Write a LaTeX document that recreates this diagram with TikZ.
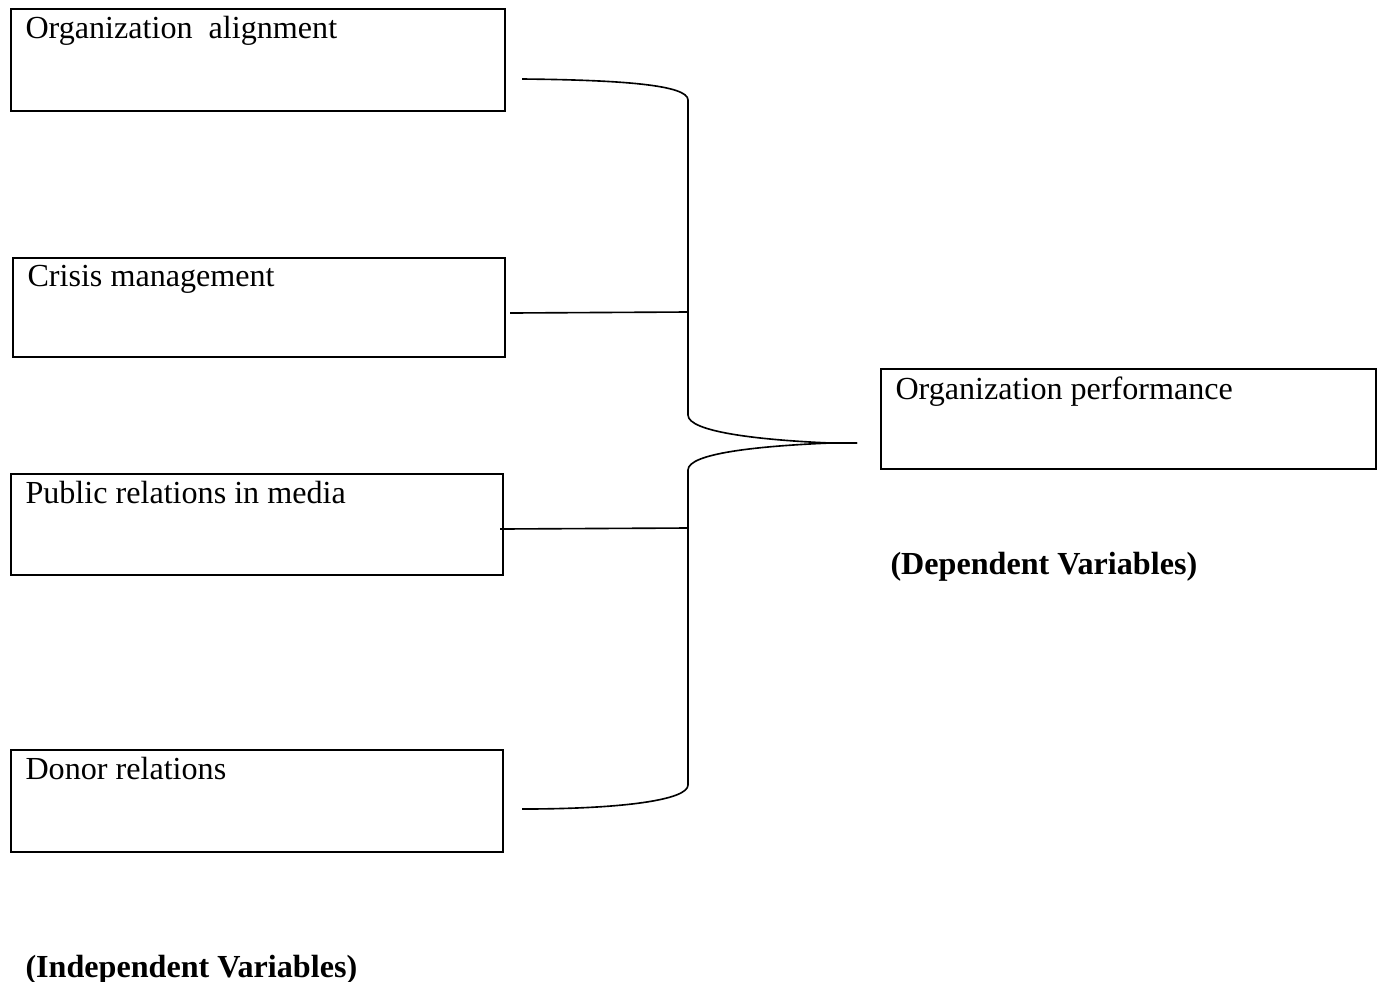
\documentclass[tikz,border=0pt]{standalone}
\usepackage{fontspec}
\setmainfont{Liberation Serif}
\tikzset{
  varbox/.style={draw, line width=0.8pt, rectangle, anchor=north west, inner sep=0pt},
  vartext/.style={anchor=north west, inner xsep=6pt, inner ysep=3.2pt, font=\fontsize{12.85}{14}\selectfont},
  conn/.style={line width=0.65pt},
  heading/.style={font=\fontsize{12.85}{14}\selectfont\bfseries, anchor=west, inner sep=0pt}
}
\begin{document}
\begin{tikzpicture}[x=0.4pt,y=-0.4pt]
  \useasboundingbox (0,0) rectangle (1377,981);

  \node[varbox, minimum width=494*0.4pt, minimum height=102*0.4pt,
        label={[vartext]north west:Organization\ \ alignment}] (align) at (10,8) {};
  \node[varbox, minimum width=492*0.4pt, minimum height=99*0.4pt,
        label={[vartext]north west:Crisis management}] (crisis) at (12,257) {};
  \node[varbox, minimum width=492*0.4pt, minimum height=101*0.4pt,
        label={[vartext]north west:Public relations in media}] (media) at (10,473) {};
  \node[varbox, minimum width=492*0.4pt, minimum height=102*0.4pt,
        label={[vartext]north west:Donor relations}] (donor) at (10,749) {};
  \node[varbox, minimum width=495*0.4pt, minimum height=100*0.4pt,
        label={[vartext]north west:Organization performance}] (perf) at (880,368) {};

  \node[heading] (dep) at (890,567) {(Dependent Variables)};
  \node[heading] (indep) at (25,970) {(Independent Variables)};

  \coordinate (tip) at (857,443);
  \draw[conn] ([shift={(16,19)}]align.east) .. controls +(100,1) and +(0,-15) .. (688,100)
      -- (688,415) .. controls +(0,17) and +(-70,-3) .. (830,443) -- (tip);
  \draw[conn] (tip) -- (830,443) .. controls +(-70,3) and +(0,-17) .. (688,470)
      -- (688,785) .. controls +(0,15) and +(100,0) .. ([shift={(18,8)}]donor.east);
  \draw[conn] ([shift={(4,5.5)}]crisis.east) -- (688,312);
  \draw[conn] ([shift={(-4,4.5)}]media.east) -- (688,528);
\end{tikzpicture}
\end{document}
